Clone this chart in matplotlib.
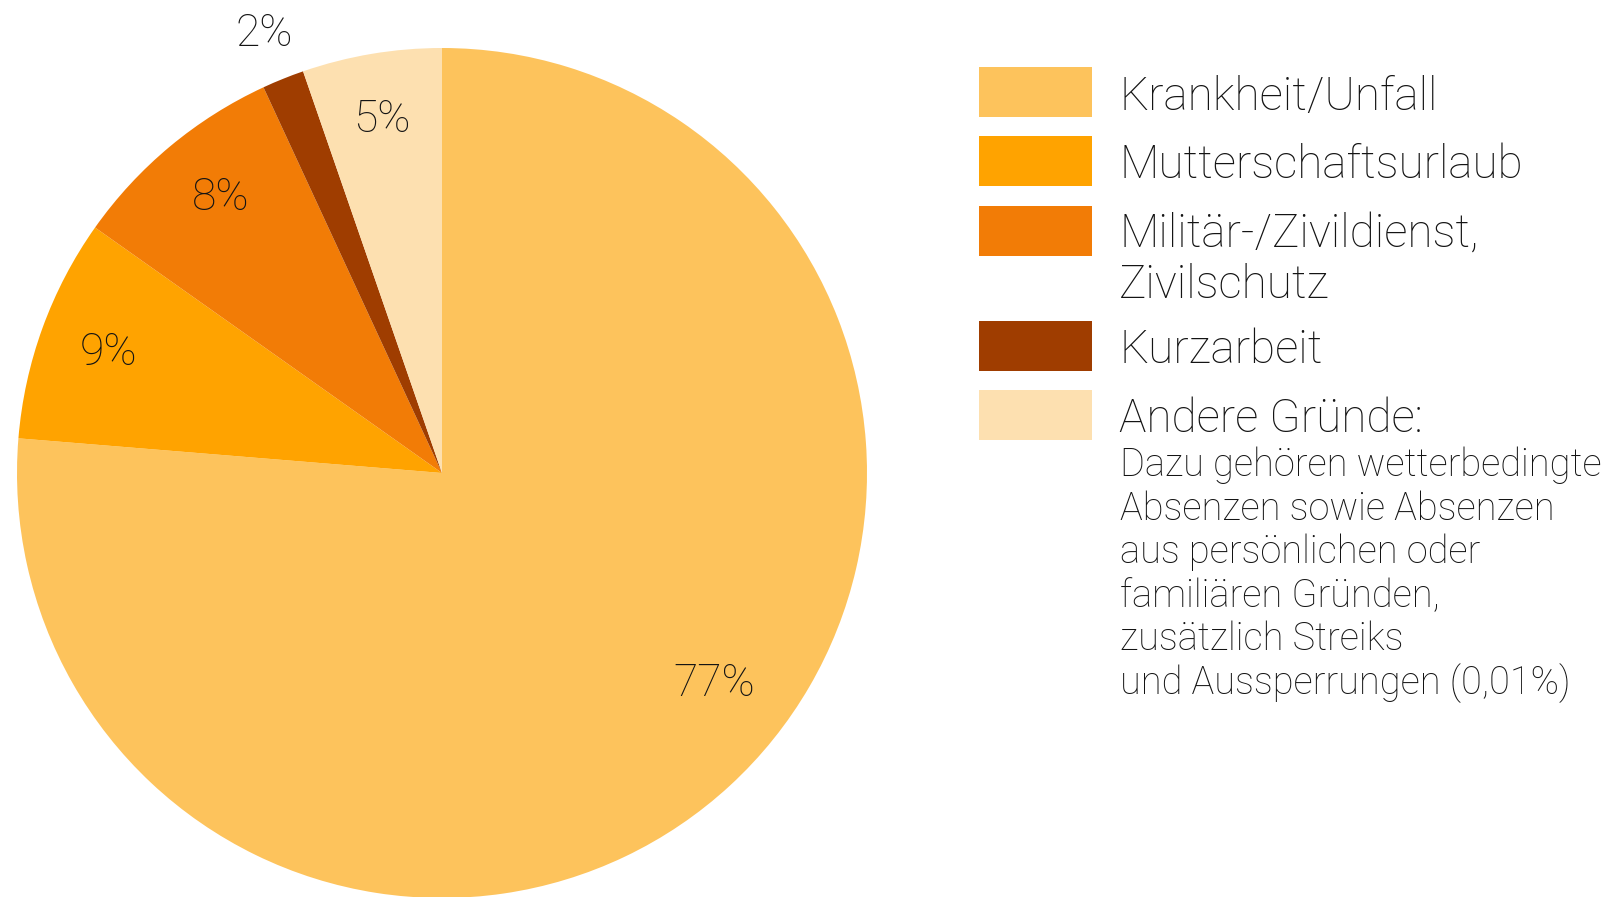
import matplotlib
matplotlib.use("Agg")
import matplotlib.pyplot as plt
from matplotlib.patches import Rectangle

categories = ["Krankheit/Unfall", "Mutterschaftsurlaub", "Militär-/Zivildienst,",
              "Kurzarbeit", "Andere Gründe:"]
category_extra = {2: "Zivilschutz"}
values = [76.3, 8.5, 8.3, 1.6, 5.3]
pct_labels = ["77%", "9%", "8%", "2%", "5%"]
colors = ["#FDC35C", "#FFA300", "#F27C06", "#9F3D00", "#FDE0B0"]
note_lines = ["Dazu gehören wetterbedingte", "Absenzen sowie Absenzen", "aus persönlichen oder",
              "familiären Gründen,", "zusätzlich Streiks", "und Aussperrungen (0,01%)"]

W, H = 1611, 897
plt.rcParams['font.family'] = ['Roboto', 'DejaVu Sans']
TXT = "#141414"

fig = plt.figure(figsize=(W / 100, H / 100), dpi=100)
cx, cy, R = 442, 473, 425
ax = fig.add_axes([(cx - R) / W, (H - cy - R) / H, 2 * R / W, 2 * R / H])
wedges, _ = ax.pie(values, colors=colors, startangle=90, counterclock=False,
                   radius=1, wedgeprops=dict(linewidth=0))
ax.set_xlim(-1, 1)
ax.set_ylim(-1, 1)
ax.set_aspect('equal')
ax.axis('off')
for w in wedges:
    w.set_clip_on(False)

label_pos = [(0.640, -0.525), (-0.785, 0.254), (-0.52, 0.619), (-0.419, 1.005), (-0.141, 0.803)]
for (lx, ly), t in zip(label_pos, pct_labels):
    ax.text(lx, ly, t, ha='center', va='baseline', fontsize=32, fontweight='light',
            color=TXT, clip_on=False)


def fx(x):
    return x / W


def fy(y):
    return 1 - y / H


patch_tops = [67, 136, 206, 321, 390]
baselines = [110, 178, 247, 363, 432]
for i, (top, base, col, cat) in enumerate(zip(patch_tops, baselines, colors, categories)):
    fig.patches.append(Rectangle((fx(979), fy(top + 50)), 113 / W, 50 / H,
                                 transform=fig.transFigure, facecolor=col, edgecolor='none'))
    fig.text(fx(1119), fy(base), cat, ha='left', va='baseline', fontsize=33,
             fontweight='light', color=TXT)
    if i in category_extra:
        fig.text(fx(1119), fy(298), category_extra[i], ha='left', va='baseline',
                 fontsize=33, fontweight='light', color=TXT)

for i, line in enumerate(note_lines):
    fig.text(fx(1120), fy(476 + i * 43.6), line, ha='left', va='baseline', fontsize=27.4,
             fontweight='light', color=TXT)

fig.savefig("out.png", dpi=100, facecolor='white')
